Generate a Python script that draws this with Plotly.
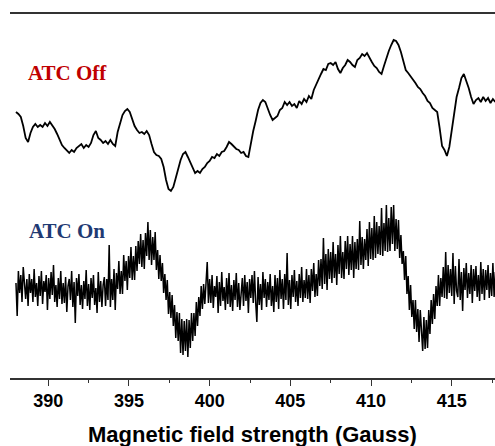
import plotly.graph_objects as go

# Field sweep (Gauss): uniform sampling of both spectra
off_field_start = 388.00
off_field_step = 0.15
on_field_start = 388.00
on_field_step = 0.075

# ATC Off spectrum (arbitrary units)
off_signal = [266, 264, 261, 252, 240, 236, 245, 251, 254, 251,
              253, 251, 255, 252, 256, 253, 249, 244, 238, 233,
              230, 227, 225, 228, 226, 230, 232, 234, 230, 233,
              231, 235, 243, 247, 240, 238, 235, 237, 234, 238,
              234, 232, 246, 256, 263, 267, 269, 266, 258, 252,
              248, 245, 246, 244, 247, 243, 234, 226, 223, 222,
              219, 211, 198, 189, 187, 191, 200, 210, 218, 224,
              226, 221, 216, 211, 205, 207, 205, 209, 211, 215,
              217, 221, 220, 224, 222, 226, 227, 231, 236, 234,
              231, 229, 228, 225, 226, 222, 221, 236, 247, 257,
              268, 275, 278, 276, 269, 263, 258, 260, 262, 268,
              270, 276, 273, 276, 272, 274, 270, 277, 274, 279,
              276, 282, 279, 288, 294, 300, 304, 309, 308, 314,
              315, 313, 316, 309, 305, 310, 313, 318, 316, 313,
              311, 318, 320, 324, 322, 325, 320, 316, 312, 310,
              306, 304, 312, 320, 327, 333, 338, 337, 333, 326,
              316, 308, 305, 302, 299, 295, 291, 289, 285, 282,
              277, 275, 270, 268, 266, 250, 232, 228, 222, 231,
              248, 265, 281, 290, 300, 304, 298, 290, 281, 274,
              278, 280, 276, 281, 277, 280, 275, 279, 276]

# ATC On spectrum (arbitrary units)
on_signal = [95, 62, 107, 85, 103, 76, 111, 93, 79, 99, 72, 104, 85, 99, 76, 109, 81, 95, 72, 102,
             82, 107, 74, 97, 86, 103, 68, 100, 79, 106, 83, 113, 76, 93, 71, 100, 79, 107, 74, 95,
             75, 101, 66, 92, 99, 78, 107, 71, 96, 55, 100, 82, 104, 73, 93, 69, 97, 79, 108, 72,
             94, 68, 100, 80, 103, 73, 90, 65, 106, 76, 97, 71, 93, 101, 72, 99, 78, 133, 71, 99,
             78, 109, 68, 105, 89, 117, 84, 107, 84, 123, 97, 117, 88, 122, 100, 131, 98, 122, 98, 132,
             107, 137, 114, 144, 111, 138, 109, 145, 122, 156, 118, 148, 113, 141, 118, 146, 108, 128, 99, 123,
             97, 115, 85, 104, 78, 98, 64, 86, 60, 83, 52, 73, 40, 66, 37, 65, 25, 59, 23, 57,
             27, 59, 21, 58, 30, 65, 37, 65, 42, 76, 52, 81, 62, 92, 69, 94, 74, 95, 116, 75,
             99, 75, 103, 70, 92, 81, 102, 65, 96, 72, 106, 77, 91, 68, 100, 74, 105, 71, 93, 67,
             98, 78, 105, 71, 95, 68, 89, 100, 72, 103, 77, 96, 65, 99, 80, 103, 75, 107, 76, 56,
             101, 73, 94, 68, 106, 80, 99, 71, 96, 78, 104, 72, 92, 66, 103, 76, 100, 69, 108, 79,
             99, 69, 104, 78, 125, 73, 98, 69, 103, 81, 108, 76, 97, 72, 104, 80, 111, 76, 98, 80,
             109, 79, 103, 75, 109, 87, 115, 81, 104, 82, 118, 92, 119, 89, 140, 94, 124, 88, 129, 99,
             126, 95, 136, 100, 124, 93, 133, 104, 142, 100, 126, 99, 137, 109, 142, 103, 134, 108, 142, 100,
             136, 109, 139, 108, 157, 113, 141, 109, 139, 118, 149, 112, 156, 119, 150, 118, 162, 120, 156, 124,
             152, 123, 170, 122, 155, 127, 173, 126, 160, 127, 171, 134, 173, 127, 159, 129, 158, 120, 143, 114,
             127, 98, 122, 84, 102, 68, 93, 61, 78, 49, 78, 46, 69, 36, 68, 40, 27, 61, 29, 58,
             30, 68, 44, 78, 54, 84, 59, 92, 72, 103, 72, 100, 81, 111, 80, 126, 79, 113, 85, 109,
             82, 125, 74, 112, 87, 81, 119, 78, 106, 67, 110, 88, 115, 80, 105, 84, 113, 75, 109, 87,
             112, 81, 103, 77, 116, 84, 109, 78, 108, 88, 113, 80, 105, 82, 115, 81, 106, 78, 110, 87]

field_ticks = [390, 395, 400, 405, 410, 415]
x_title = "Magnetic field strength (Gauss)"

fig = go.Figure()
fig.add_trace(go.Scatter(x0=off_field_start, dx=off_field_step, y=off_signal, mode="lines",
                         line=dict(color="black", width=1.8), showlegend=False))
fig.add_trace(go.Scatter(x0=on_field_start, dx=on_field_step, y=on_signal, mode="lines",
                         line=dict(color="black", width=1.5), showlegend=False))

fig.add_annotation(x=388.60, y=305, xref="x", yref="y", text="ATC Off", showarrow=False,
                   xanchor="left", yanchor="middle",
                   font=dict(family="Liberation Serif", size=21, color="#C00000", weight="bold"))
fig.add_annotation(x=388.70, y=147, xref="x", yref="y", text="ATC On", showarrow=False,
                   xanchor="left", yanchor="middle",
                   font=dict(family="Liberation Serif", size=21, color="#1F3A73", weight="bold"))
fig.add_annotation(x=0.5, y=0, xref="paper", yref="paper", text=x_title, showarrow=False,
                   xanchor="center", yanchor="middle", yshift=-56,
                   font=dict(family="Liberation Sans", size=22, color="black", weight="bold"))

fig.update_layout(
    width=495, height=446,
    margin=dict(l=10, r=0, t=14, b=68),
    paper_bgcolor="white", plot_bgcolor="white",
    hovermode=False,
    xaxis=dict(
        range=[387.63, 417.68],
        automargin=False,
        tickvals=field_ticks,
        ticktext=[str(v) for v in field_ticks],
        ticks="outside", ticklen=6, tickwidth=1.3, tickcolor="#333",
        minor=dict(dtick=2.5, tick0=387.5, ticks="outside", ticklen=3, tickwidth=1.2, tickcolor="#333"),
        showline=True, linecolor="#333", linewidth=1.5, mirror=True,
        showgrid=False, zeroline=False,
        tickfont=dict(family="Liberation Sans", size=18, color="black", weight="bold"),
    ),
    yaxis=dict(range=[0, 364], visible=False, automargin=False),
)

fig.write_html("out.html", config={"displayModeBar": False},
               post_script="document.body.style.margin='0px';")
